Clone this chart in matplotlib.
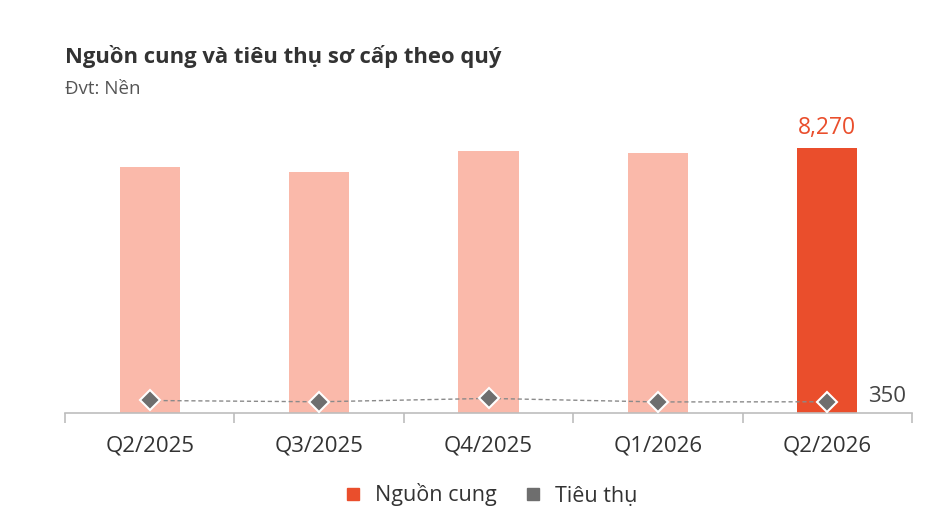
import numpy as np
import matplotlib.pyplot as plt

plt.rcParams['font.family'] = ['Open Sans', 'DejaVu Sans']

# data
quarters = ['Q2/2025', 'Q3/2025', 'Q4/2025', 'Q1/2026', 'Q2/2026']
supply = [7680, 7515, 8160, 8105, 8270]
absorption = [390, 350, 455, 345, 350]

light_red = '#FAB9AA'
dark_red = '#EA4E2C'
gray = '#6E6E6E'

fig = plt.figure(figsize=(9.36, 5.24), dpi=100)
ax = fig.add_axes([65 / 936, (524 - 413) / 524, (912 - 65) / 936, (413 - 118) / 524])

x = np.arange(len(quarters))
colors = [light_red] * (len(quarters) - 1) + [dark_red]
ax.bar(x, supply, width=0.355, color=colors, zorder=2)

ax.plot(x, absorption, ls=(0, (3, 2)), color='#8a8a8a', lw=1, zorder=3)
ax.plot(x, absorption, ls='none', marker='D', ms=10, mfc=gray, mec='white', mew=1.5, zorder=4)

ax.text(x[-1], supply[-1] + 230, f'{supply[-1]:,}', ha='center', va='bottom',
        color=dark_red, fontsize=16.5)
ax.text(x[-1] + 0.24, absorption[-1] + 170, f'{absorption[-1]}', ha='left', va='center',
        color='#444444', fontsize=16)

ax.set_xlim(-0.5, len(quarters) - 0.5)
ax.set_ylim(0, 9200)
ax.set_yticks([])
for s in ['top', 'right', 'left']:
    ax.spines[s].set_visible(False)
ax.spines['bottom'].set_color('#bdbdbd')
ax.spines['bottom'].set_linewidth(1.2)

ax.set_xticks(x)
ax.set_xticklabels(quarters, fontsize=16, color='#333333')
ax.tick_params(axis='x', which='major', length=0, pad=16)
ax.set_xticks(np.arange(-0.5, len(quarters)), minor=True)
ax.tick_params(axis='x', which='minor', length=7, width=1.2, color='#bdbdbd')

fig.text(65 / 936, 1 - 57 / 524, 'Nguồn cung và tiêu thụ sơ cấp theo quý', fontsize=15.8,
         fontweight='bold', color='#333333', va='center', ha='left')
fig.text(65 / 936, 1 - 89 / 524, 'Đvt: Nền', fontsize=13.5, color='#555555', va='center', ha='left')

handles = [plt.Line2D([], [], ls='none', marker='s', ms=8, color=dark_red),
           plt.Line2D([], [], ls='none', marker='s', ms=8, color=gray)]
fig.legend(handles, ['Nguồn cung', 'Tiêu thụ'], loc='center', bbox_to_anchor=(490 / 936, 1 - 495 / 524),
           ncol=2, frameon=False, fontsize=15.5, handlelength=1, handletextpad=0.5,
           columnspacing=1.2, labelcolor='#333333')

fig.savefig('out.png', dpi=100)
